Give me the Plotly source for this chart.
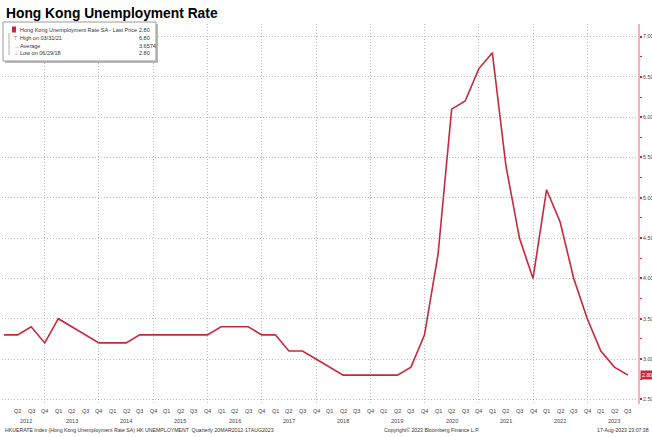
import plotly.graph_objects as go

# ---------------- data ----------------
quarter_labels = (["Q1", "Q2", "Q3", "Q4"] * 12)[:47]
years = list(range(2012, 2024))
unemployment = [3.3, 3.3, 3.4, 3.2,   # 2012
                3.5, 3.4, 3.3, 3.2,   # 2013
                3.2, 3.2, 3.3, 3.3,   # 2014
                3.3, 3.3, 3.3, 3.3,   # 2015
                3.4, 3.4, 3.4, 3.3,   # 2016
                3.3, 3.1, 3.1, 3.0,   # 2017
                2.9, 2.8, 2.8, 2.8,   # 2018
                2.8, 2.8, 2.9, 3.3,   # 2019
                4.3, 6.1, 6.2, 6.6,   # 2020
                6.8, 5.4, 4.5, 4.0,   # 2021
                5.1, 4.7, 4.0, 3.5,   # 2022
                3.1, 2.9, 2.8]        # 2023
y_ticks = [2.5, 3.0, 3.5, 4.0, 4.5, 5.0, 5.5, 6.0, 6.5, 7.0]
legend_rows = [("Hong Kong Unemployment Rate SA - Last Price", "2.80"),
               ("High on 03/31/21", "6.80"),
               ("Average", "3.6574"),
               ("Low on 06/29/18", "2.80")]

idx = list(range(len(unemployment)))
q4_idx = [i for i in idx if quarter_labels[i] == "Q4"]

# ---------------- geometry ----------------
W, H = 652, 437
PL, PR, PT, PB = 2, 638, 24, 404

def px(x):
    return (x - PL) / (PR - PL)

def py(y):
    return (PB - y) / (PB - PT)

RED = "#c8283c"
GRID = "#bdbdbd"
TXT = "#444444"
FONT = "Liberation Sans"
DOT = "1px,2px"

fig = go.Figure()
fig.add_trace(go.Scatter(x=idx, y=unemployment, mode="lines",
                         line=dict(color=RED, width=1.6),
                         hoverinfo="skip", showlegend=False))

fig.update_layout(
    width=W, height=H,
    margin=dict(l=PL, r=W - PR, t=PT, b=H - PB, pad=0),
    paper_bgcolor="white", plot_bgcolor="white",
    showlegend=False,
    font=dict(family=FONT, color=TXT, size=6),
    xaxis=dict(
        range=[-0.15, 46.74],
        automargin=False,
        tickmode="array",
        tickvals=q4_idx,
        showticklabels=False,
        showgrid=True, gridcolor=GRID, griddash=DOT, gridwidth=1,
        zeroline=False, showline=False, ticks="",
    ),
    yaxis=dict(
        side="right",
        automargin=False,
        range=[2.442, 7.156],
        tickmode="array",
        tickvals=y_ticks,
        ticktext=[f"{v:.2f}" for v in y_ticks],
        tickfont=dict(size=5.3, color=TXT, family=FONT),
        showgrid=True, gridcolor=GRID, griddash=DOT, gridwidth=1,
        zeroline=False,
        showline=True, linecolor="#f0b4bc", linewidth=2,
        ticks="outside", ticklen=2, tickwidth=2, tickcolor=RED,
        ticklabelstandoff=0,
        minor=dict(tickmode="linear", tick0=2.25, dtick=0.25, ticks="outside",
                   ticklen=2, tickwidth=1, tickcolor=RED, showgrid=False),
    ),
)

shapes = []
annotations = []

# title
annotations.append(dict(xref="paper", yref="paper", x=px(4), y=py(13),
                        xanchor="left", yanchor="middle", showarrow=False,
                        text="<b>Hong Kong Unemployment Rate</b>",
                        font=dict(size=13.8, color="black", family=FONT)))

# legend box with shadow
shapes.append(dict(type="rect", xref="paper", yref="paper",
                   x0=px(5), x1=px(158), y0=py(24), y1=py(63),
                   fillcolor="#b8b8b8", line=dict(width=0), layer="above"))
shapes.append(dict(type="rect", xref="paper", yref="paper",
                   x0=px(3), x1=px(156), y0=py(22), y1=py(61),
                   fillcolor="white", line=dict(color="#9a9a9a", width=1), layer="above"))
shapes.append(dict(type="rect", xref="paper", yref="paper",
                   x0=px(12), x1=px(16), y0=py(26.5), y1=py(32.5),
                   fillcolor=RED, line=dict(width=0), layer="above"))
shapes.append(dict(type="line", xref="paper", yref="paper",
                   x0=px(9), x1=px(9), y0=py(33), y1=py(55),
                   line=dict(color="#999999", width=0.8), layer="above"))
row_y = [30, 38, 46, 53.5]
icons = ["", "T", "→", "⊥"]
for (label, val), yy, ic in zip(legend_rows, row_y, icons):
    annotations.append(dict(xref="paper", yref="paper", x=px(18), y=py(yy),
                            xanchor="left", yanchor="middle", showarrow=False,
                            text=label, font=dict(size=5.5, color="#333333", family=FONT)))
    annotations.append(dict(xref="paper", yref="paper", x=px(137), y=py(yy),
                            xanchor="left", yanchor="middle", showarrow=False,
                            text=val, font=dict(size=5.5, color="#333333", family=FONT)))
    if ic:
        annotations.append(dict(xref="paper", yref="paper", x=px(12), y=py(yy),
                                xanchor="left", yanchor="middle", showarrow=False,
                                text=ic, font=dict(size=5, color="#888888", family=FONT)))

# quarter labels (Q1 2012 not shown, as in the source)
for i in idx[1:]:
    annotations.append(dict(xref="x", yref="paper", x=i, y=py(411),
                            xanchor="center", yanchor="middle", showarrow=False,
                            text=quarter_labels[i],
                            font=dict(size=5.5, color=TXT, family=FONT)))

# year labels under Q2 of each year
for k, yr in enumerate(years):
    pos = 4 * k + 1
    if yr == 2012:
        pos = 1.6
    annotations.append(dict(xref="x", yref="paper", x=pos, y=py(421),
                            xanchor="center", yanchor="middle", showarrow=False,
                            text=str(yr), font=dict(size=5.5, color=TXT, family=FONT)))

# last price tag
annotations.append(dict(xref="paper", yref="y", x=px(640), y=unemployment[-1],
                        xanchor="left", yanchor="middle", showarrow=False,
                        text="2.80", bgcolor=RED, borderpad=1,
                        font=dict(size=5.3, color="white", family=FONT)))

# footer
annotations.append(dict(xref="paper", yref="paper", x=px(3), y=py(430),
                        xanchor="left", yanchor="middle", showarrow=False,
                        text="HKUERATE Index (Hong Kong Unemployment Rate SA) HK UNEMPLOYMENT  Quarterly 20MAR2012-17AUG2023",
                        font=dict(size=5.2, color="#333333", family=FONT)))
annotations.append(dict(xref="paper", yref="paper", x=px(431), y=py(430),
                        xanchor="center", yanchor="middle", showarrow=False,
                        text="Copyright© 2023 Bloomberg Finance L.P.",
                        font=dict(size=5.2, color="#333333", family=FONT)))
annotations.append(dict(xref="paper", yref="paper", x=px(651), y=py(430),
                        xanchor="right", yanchor="middle", showarrow=False,
                        text="17-Aug-2023 23:07:38",
                        font=dict(size=5.2, color="#333333", family=FONT)))

fig.update_layout(shapes=shapes, annotations=annotations)
fig.write_html(
    "out.html",
    config={"displayModeBar": False},
    post_script="document.body.style.margin='0';document.body.style.padding='0';"
                "document.body.style.overflow='hidden';",
)
